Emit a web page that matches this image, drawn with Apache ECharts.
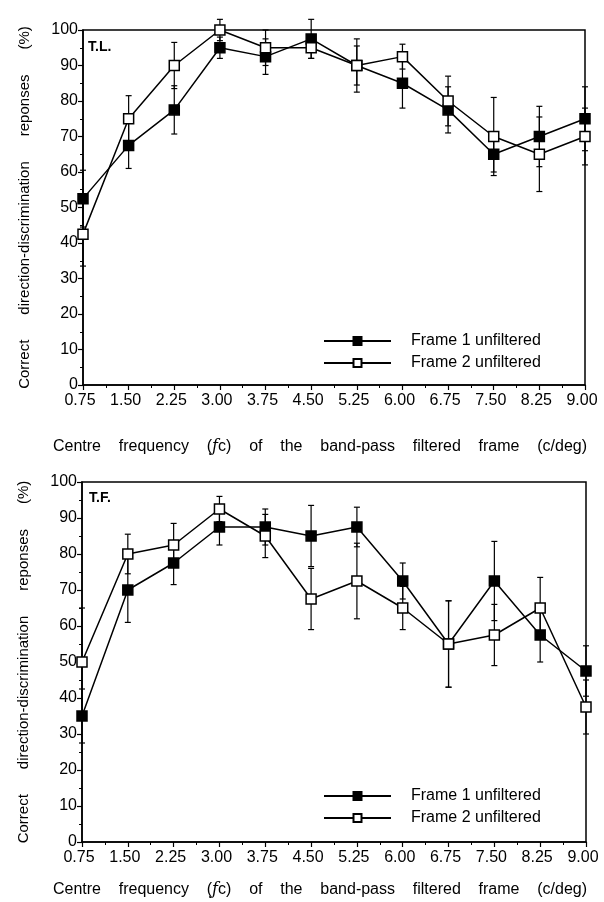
<!DOCTYPE html>
<html>
<head>
<meta charset="utf-8">
<script src="https://cdn.jsdelivr.net/npm/echarts@6/dist/echarts.min.js"></script>
<style>
  html, body { margin: 0; padding: 0; background: #fff; }
  #chart { width: 604px; height: 902px; }
</style>
</head>
<body>
<div id="chart"></div>
<script>
// centre frequencies (c/deg)
var freqs = [0.75, 1.50, 2.25, 3.00, 3.75, 4.50, 5.25, 6.00, 6.75, 7.50, 8.25, 9.00];

// T.L. panel
var tlFrame1    = [52.5, 67.5, 77.5, 95, 92.5, 97.5, 90, 85, 77.5, 65, 70, 75];
var tlFrame1Err = [8, 6.5, 6.8, 3, 5, 5.5, 7.5, 7, 6.5, 5, 8.5, 9];
var tlFrame2    = [42.5, 75, 90, 100, 95, 95, 90, 92.5, 80, 70, 65, 70];
var tlFrame2Err = [9, 6.5, 6.5, 3, 5, 3, 5.5, 3.5, 7, 11, 10.5, 8];

// T.F. panel
var tfFrame1    = [35, 70, 77.5, 87.5, 87.5, 85, 87.5, 72.5, 55, 72.5, 57.5, 47.5];
var tfFrame1Err = [7.5, 9, 6, 5, 5, 8.5, 5.5, 5, 12, 11, 7.5, 7];
var tfFrame2    = [50, 80, 82.5, 92.5, 85, 67.5, 72.5, 65, 55, 57.5, 65, 37.5];
var tfFrame2Err = [15, 5.5, 6, 3.5, 6, 8.5, 10.5, 6, 12, 8.5, 8.5, 7.5];

var yTicks = [0, 10, 20, 30, 40, 50, 60, 70, 80, 90, 100];

var font = 'Liberation Sans, Arial, Helvetica, sans-serif';
var yName = 'Correct      direction-discrimination      reponses      (%)';
var xName = 'Centre    frequency    ({i|ƒ}c)    of    the    band-pass    filtered    frame    (c/deg)';

var myChart = echarts.init(document.getElementById('chart'));

function pairs(vals) {
    var out = [];
    for (var i = 0; i < freqs.length; i++) out.push([freqs[i], vals[i]]);
    return out;
}

function errData(vals, errs) {
    var out = [];
    for (var i = 0; i < freqs.length; i++) out.push([freqs[i], vals[i] - errs[i], vals[i] + errs[i]]);
    return out;
}

function renderErr(params, api) {
    var x = api.value(0);
    var lo = api.coord([x, api.value(1)]);
    var hi = api.coord([x, api.value(2)]);
    var st = {stroke: '#000', lineWidth: 1.2};
    return {
        type: 'group',
        children: [
            {type: 'line', shape: {x1: lo[0], y1: lo[1], x2: hi[0], y2: hi[1]}, style: st},
            {type: 'line', shape: {x1: hi[0] - 3, y1: hi[1], x2: hi[0] + 3, y2: hi[1]}, style: st},
            {type: 'line', shape: {x1: lo[0] - 3, y1: lo[1], x2: lo[0] + 3, y2: lo[1]}, style: st}
        ]
    };
}

function xAxisFor(idx, gap) {
    return {
        gridIndex: idx,
        type: 'value',
        min: 0.75,
        max: 9,
        interval: 0.75,
        name: xName,
        nameLocation: 'middle',
        nameGap: gap,
        nameTextStyle: {
            color: '#000', fontSize: 16, fontFamily: font,
            padding: [0, 28, 0, 0],
            rich: {i: {fontStyle: 'italic', fontSize: 16, fontFamily: 'DejaVu Serif'}}
        },
        axisLine: {lineStyle: {color: '#000', width: 1.5}},
        axisTick: {length: 5, lineStyle: {color: '#000', width: 1.2}},
        minorTick: {show: true, splitNumber: 2, length: 3, lineStyle: {color: '#000'}},
        axisLabel: {
            color: '#000', fontSize: 16, fontFamily: font, margin: 8,
            padding: [0, 6, 0, 0],
            formatter: function (v) { return v.toFixed(2); }
        },
        splitLine: {show: false}
    };
}

function yAxisFor(idx) {
    return {
        gridIndex: idx,
        type: 'value',
        min: yTicks[0],
        max: yTicks[yTicks.length - 1],
        interval: 10,
        name: yName,
        nameLocation: 'middle',
        nameGap: 51,
        nameTextStyle: {color: '#000', fontSize: 15, fontFamily: font},
        axisLine: {lineStyle: {color: '#000', width: 1.5}},
        axisTick: {length: 5, lineStyle: {color: '#000', width: 1.2}},
        minorTick: {show: true, splitNumber: 2, length: 3, lineStyle: {color: '#000'}},
        axisLabel: {color: '#000', fontSize: 16, fontFamily: font, margin: 5},
        splitLine: {show: false}
    };
}

function lineSeries(name, idx, vals, filled) {
    return {
        name: name,
        type: 'line',
        xAxisIndex: idx,
        yAxisIndex: idx,
        data: pairs(vals),
        symbol: 'rect',
        symbolSize: 10,
        z: filled ? 4 : 5,
        lineStyle: {color: '#000', width: 1.5},
        itemStyle: {color: filled ? '#000' : '#fff', borderColor: '#000', borderWidth: 1.5},
        emphasis: {disabled: true}
    };
}

function errSeries(idx, vals, errs) {
    return {
        type: 'custom',
        xAxisIndex: idx,
        yAxisIndex: idx,
        renderItem: renderErr,
        encode: {x: 0, y: [1, 2]},
        data: errData(vals, errs),
        z: 3,
        silent: true
    };
}

function legendFor(top) {
    return {
        left: 323,
        top: top,
        padding: 0,
        orient: 'vertical',
        itemWidth: 67,
        itemHeight: 10,
        itemGap: 6,
        selectedMode: false,
        textStyle: {color: '#000', fontSize: 16, fontFamily: font, padding: [0, 0, 0, 15]},
        data: ['Frame 1 unfiltered', 'Frame 2 unfiltered']
    };
}

var option = {
    animation: false,
    backgroundColor: '#fff',
    title: [
        {text: 'T.L.', left: 83, top: 35, textStyle: {fontSize: 14, fontWeight: 'bold', color: '#000', fontFamily: font}},
        {text: 'T.F.', left: 84, top: 486, textStyle: {fontSize: 14, fontWeight: 'bold', color: '#000', fontFamily: font}}
    ],
    legend: [legendFor(333), legendFor(788)],
    grid: [
        {left: 83, top: 30, width: 502, height: 355, show: true, borderColor: '#000', borderWidth: 1.5, backgroundColor: 'transparent'},
        {left: 82, top: 482, width: 504, height: 360, show: true, borderColor: '#000', borderWidth: 1.5, backgroundColor: 'transparent'}
    ],
    xAxis: [xAxisFor(0, 54), xAxisFor(1, 40)],
    yAxis: [yAxisFor(0), yAxisFor(1)],
    series: [
        errSeries(0, tlFrame1, tlFrame1Err),
        errSeries(0, tlFrame2, tlFrame2Err),
        lineSeries('Frame 1 unfiltered', 0, tlFrame1, true),
        lineSeries('Frame 2 unfiltered', 0, tlFrame2, false),
        errSeries(1, tfFrame1, tfFrame1Err),
        errSeries(1, tfFrame2, tfFrame2Err),
        lineSeries('Frame 1 unfiltered', 1, tfFrame1, true),
        lineSeries('Frame 2 unfiltered', 1, tfFrame2, false)
    ]
};

myChart.setOption(option);
</script>
</body>
</html>
